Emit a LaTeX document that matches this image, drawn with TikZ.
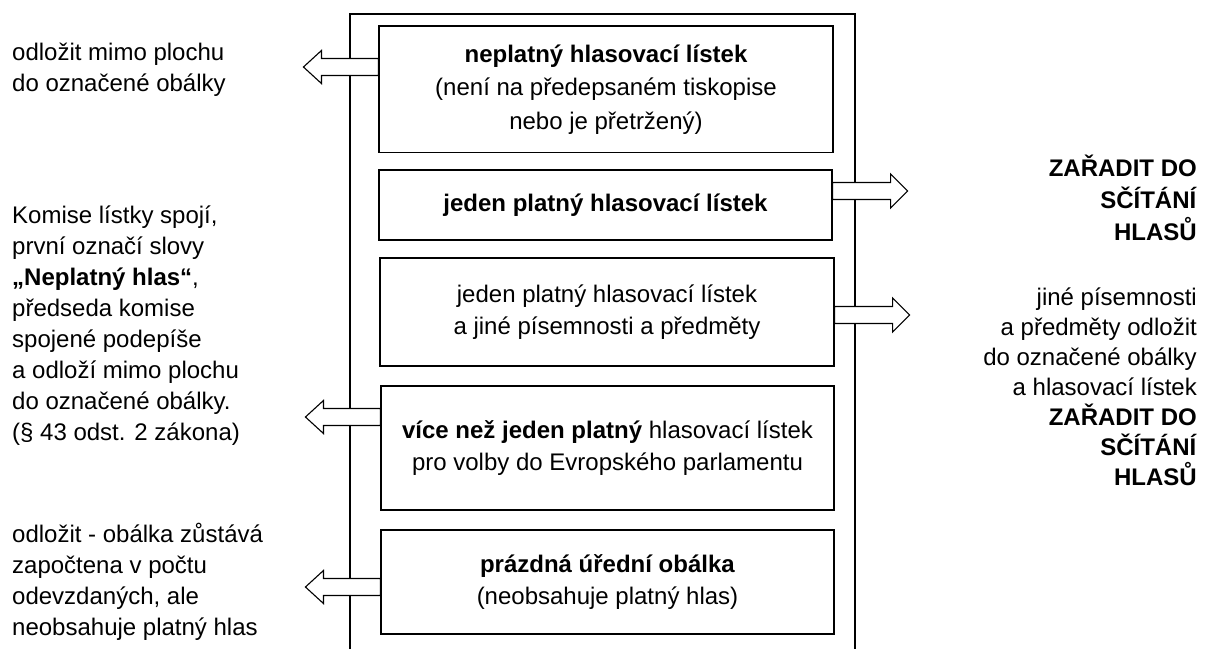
\documentclass[tikz,border=0pt]{standalone}
\usepackage{fontspec}
\setmainfont{Liberation Sans}
\begin{document}
\begin{tikzpicture}[x=1pt,y=-1pt,
  lw/.style={line width=1.1pt},
  box/.style={draw, lw, inner sep=0pt, align=center, font=\fontsize{24}{32}\selectfont},
  side/.style={inner sep=0pt, font=\fontsize{24}{31}\selectfont},
  barrow/.style={draw, fill=white, lw, line join=miter},
  leftblock/.pic={\draw[barrow] (0,-8.5) -- (-57,-8.5) -- (-57,-16.5) -- (-75,0) -- (-57,16.5) -- (-57,8.5) -- (0,8.5) -- cycle;},
  rightblock/.pic={\draw[barrow] (0,-8.5) -- (58,-8.5) -- (58,-17) -- (75,0) -- (58,17) -- (58,8.5) -- (0,8.5) -- cycle;}]
\useasboundingbox (0,0) rectangle (1208,649);
% outer frame
\draw[lw] (350,649) -- (350,14) -- (855,14) -- (855,649);
% boxes
\node[box, minimum width=454pt, minimum height=126.7pt, font=\fontsize{24}{33.5}\selectfont] (b1) at (606,89.3)
  {\textbf{neplatný hlasovací lístek}\\(není na předepsaném tiskopise\\nebo je přetržený)};
\node[box, minimum width=453pt, minimum height=70pt] (b2) at (605.5,205)
  {\textbf{jeden platný hlasovací lístek}};
\node[box, minimum width=454pt, minimum height=108pt] (b3) at (607,312)
  {jeden platný hlasovací lístek\\a jiné písemnosti a předměty};
\node[box, minimum width=453pt, minimum height=124pt] (b4) at (607.5,448)
  {\textbf{více než jeden platný} hlasovací lístek\\pro volby do Evropského parlamentu};
\node[box, minimum width=453pt, minimum height=104pt] (b5) at (607.5,582)
  {\textbf{prázdná úřední obálka}\\(neobsahuje platný hlas)};
% block arrows
\pic at (b1.west |- 0,67) {leftblock};
\pic at (b2.east |- 0,191) {rightblock};
\pic at (b3.east |- 0,315) {rightblock};
\pic at (b4.west |- 0,417) {leftblock};
\pic at (b5.west |- 0,587) {leftblock};
% side texts
\node[side, align=left, anchor=west] (t1) at (12,69.3)
  {odložit mimo plochu\\do označené obálky};
\node[side, align=left, anchor=west] (t2) at (12,325.4)
  {Komise lístky spojí,\\první označí slovy\\\textbf{„Neplatný hlas“},\\předseda komise\\spojené podepíše\\a odloží mimo plochu\\do označené obálky.\\(§ 43 odst. 2 zákona)};
\node[side, align=left, anchor=west] (t3) at (12,582)
  {odložit - obálka zůstává\\započtena v počtu\\odevzdaných, ale\\neobsahuje platný hlas};
\node[side, align=right, anchor=east, font=\fontsize{24}{32}\selectfont] (r1) at (1197,198)
  {\textbf{ZAŘADIT DO}\\\textbf{SČÍTÁNÍ}\\\textbf{HLASŮ}};
\node[side, align=right, anchor=east, font=\fontsize{24}{30}\selectfont] (r2) at (1197,387)
  {jiné písemnosti\\a předměty odložit\\do označené obálky\\a hlasovací lístek\\\textbf{ZAŘADIT DO}\\\textbf{SČÍTÁNÍ}\\\textbf{HLASŮ}};
\end{tikzpicture}
\end{document}
